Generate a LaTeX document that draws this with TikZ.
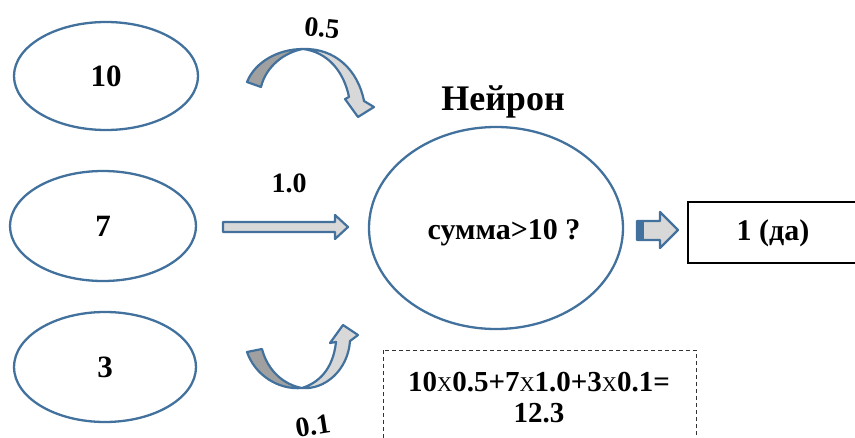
\documentclass[tikz,border=0pt]{standalone}
\usepackage{fontspec}
\setmainfont{Liberation Serif}
\usetikzlibrary{shapes.geometric}
\definecolor{edgeblue}{RGB}{65,113,156}
\definecolor{darkfill}{RGB}{160,160,160}
\definecolor{lightfill}{RGB}{216,216,216}
\newcommand{\fs}[1]{\fontsize{#1}{#1}\selectfont}
\newcommand{\timesx}{{\mdseries\fs{21}X}}
\tikzset{
  inputnode/.style={ellipse, draw=edgeblue, line width=2.3pt, inner sep=0pt,
    font=\bfseries\fs{31}},
  blockarrow/.style={draw=edgeblue, line width=2.2pt, line join=round},
  weight/.style={font=\bfseries\fs{28}, inner sep=0pt},
  plainbox/.style={draw=black, line width=1.2pt},
  notebox/.style={draw=black!80, line width=1pt, dash pattern=on 4pt off 3pt},
}
\begin{document}
\begin{tikzpicture}[x=1pt, y=-1pt]
  \useasboundingbox (0,0) rectangle (855,437);
  \clip (0,0) rectangle (855,437);

  % inputs
  \node[inputnode, minimum width=184pt, minimum height=108pt] (in10) at (106,76) {10};
  \node[inputnode, minimum width=186pt, minimum height=110pt] (in7) at (103,226) {7};
  \node[inputnode, minimum width=182pt, minimum height=110pt] (in3) at (105,367) {3};

  % neuron
  \node[inputnode, minimum width=254pt, minimum height=202pt] (neuron) at (496,228) {};
  \node[font=\bfseries\fs{30}, inner sep=0pt] (cond) at (504,233) {сумма>10 ?};
  \node[font=\bfseries\fs{36}, inner sep=0pt] (title) at (503,102) {Нейрон};

  % weights
  \node[weight, rotate=-6] (w1) at (322,28) {0.5};
  \node[weight] (w2) at (289,183) {1.0};
  \node[weight, rotate=9] (w3) at (313,426) {0.1};

  % curved arrow from the first input
  \fill[darkfill] (247,82) .. controls (255,62) and (278,49) .. (303,49)
    .. controls (285,52) and (266,66) .. (261,87) -- cycle;
  \fill[lightfill] (303,49) .. controls (328,52) and (344,72) .. (349,97)
    -- (345,99) -- (358,117) -- (374,107) -- (364,101)
    .. controls (358,70) and (335,48) .. (303,49) -- cycle;
  \draw[blockarrow] (247,82) .. controls (255,62) and (278,49) .. (303,49)
    .. controls (335,48) and (358,70) .. (364,101)
    -- (374,107) -- (358,117) -- (345,99) -- (349,97)
    .. controls (344,72) and (328,52) .. (303,49)
    .. controls (285,52) and (266,66) .. (261,87) -- cycle;

  % straight arrow from the second input
  \draw[blockarrow, fill=lightfill] (223,222) -- (335,222) -- (335,215) -- (348,227)
    -- (335,239) -- (335,232) -- (223,232) -- cycle;

  % curved arrow from the third input
  \fill[darkfill] (247,352) .. controls (255,375) and (278,390) .. (302,388)
    .. controls (285,385) and (268,372) .. (262,349) -- cycle;
  \fill[lightfill] (302,388) .. controls (318,383) and (333,370) .. (336,342)
    -- (330,343) -- (343,325) -- (358,335) -- (350,341)
    .. controls (348,370) and (325,390) .. (302,388) -- cycle;
  \draw[blockarrow] (247,352) .. controls (255,375) and (278,390) .. (302,388)
    .. controls (325,390) and (348,370) .. (350,341)
    -- (358,335) -- (343,325) -- (330,343) -- (336,342)
    .. controls (333,370) and (318,383) .. (302,388)
    .. controls (285,385) and (268,372) .. (262,349) -- cycle;

  % output arrow
  \draw[blockarrow, fill=lightfill] (637,221) -- (660,221) -- (660,212) -- (678,230)
    -- (660,248) -- (660,240) -- (637,240) -- cycle;
  \fill[edgeblue] (637,221) rectangle (644,240);

  % result
  \draw[plainbox] (688,202) rectangle (875,263);
  \node[font=\bfseries\fs{30}, inner sep=0pt] (result) at (773,233) {1 (да)};

  % weighted sum
  \draw[notebox] (383,350) rectangle (696,460);
  \node[font=\bfseries\fs{29}, inner sep=0pt, align=center] (sum) at (539,398)
    {10\timesx0.5+7\timesx1.0+3\timesx0.1=\\[2pt]12.3};
\end{tikzpicture}
\end{document}
